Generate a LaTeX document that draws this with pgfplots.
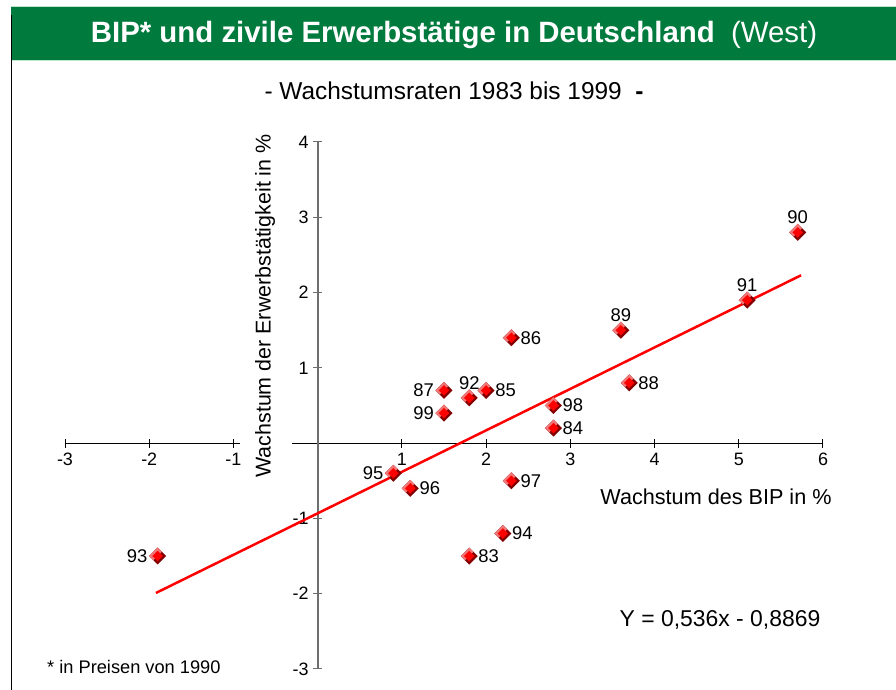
\documentclass[border=0pt]{standalone}
\usepackage{pgfplots}
\usepackage{pgfplotstable}
\pgfplotsset{compat=1.18}
\usepackage{fontspec}
\setmainfont{Liberation Sans}
\definecolor{hdrgreen}{RGB}{0,122,61}
\definecolor{lightedge}{RGB}{190,230,205}
\definecolor{bevlight}{RGB}{240,120,120}
\definecolor{bevdark}{RGB}{130,0,0}
\definecolor{ygray}{RGB}{110,110,110}
\pgfdeclareplotmark{bevdiamond}{%
  \pgfpathmoveto{\pgfpoint{0pt}{\pgfplotmarksize}}%
  \pgfpathlineto{\pgfpoint{\pgfplotmarksize}{0pt}}%
  \pgfpathlineto{\pgfpoint{0pt}{-\pgfplotmarksize}}%
  \pgfpathlineto{\pgfpoint{-\pgfplotmarksize}{0pt}}%
  \pgfpathclose
  \pgfsetfillcolor{bevdark}\pgfusepath{fill}%
  \pgfpathmoveto{\pgfpoint{0.5\pgfplotmarksize}{0.5\pgfplotmarksize}}%
  \pgfpathlineto{\pgfpoint{0pt}{\pgfplotmarksize}}%
  \pgfpathlineto{\pgfpoint{-\pgfplotmarksize}{0pt}}%
  \pgfpathlineto{\pgfpoint{-0.5\pgfplotmarksize}{-0.5\pgfplotmarksize}}%
  \pgfpathclose
  \pgfsetfillcolor{bevlight}\pgfusepath{fill}%
  \pgfpathmoveto{\pgfpoint{0pt}{0.62\pgfplotmarksize}}%
  \pgfpathlineto{\pgfpoint{0.62\pgfplotmarksize}{0pt}}%
  \pgfpathlineto{\pgfpoint{0pt}{-0.62\pgfplotmarksize}}%
  \pgfpathlineto{\pgfpoint{-0.62\pgfplotmarksize}{0pt}}%
  \pgfpathclose
  \pgfsetfillcolor{red}\pgfusepath{fill}%
}
\pgfplotstableread{
x y lab
2.3 1.4 86
2.0 0.7 85
2.8 0.5 98
2.8 0.2 84
3.7 0.8 88
1.1 -0.6 96
2.3 -0.5 97
2.2 -1.2 94
1.8 -1.5 83
}\ptsright
\pgfplotstableread{
x y lab
1.5 0.7 87
1.5 0.4 99
0.9 -0.4 95
-1.9 -1.5 93
}\ptsleft
\pgfplotstableread{
x y lab
3.6 1.5 89
5.7 2.8 90
5.1 1.9 91
1.8 0.6 92
}\ptsabove
\begin{document}
\begin{tikzpicture}
\path[use as bounding box] (0,0) rectangle (896bp,690bp);
% frame
\fill[hdrgreen] (11bp,630bp) rectangle (896bp,683bp);
\draw[lightedge, line width=1bp] (11bp,683bp) -- (896bp,683bp);
\draw[lightedge, line width=1bp] (11bp,629.5bp) -- (896bp,629.5bp);
\draw[black, line width=1.5bp] (11.5bp,0bp) -- (11.5bp,675bp);
\node[white, anchor=center] at (454bp,655bp)
  {\fontsize{29.5}{32}\selectfont\bfseries BIP* und zivile Erwerbstätige in Deutschland\mdseries\ \ (West)};
\node[anchor=center] at (454bp,599bp)
  {\fontsize{24.5}{28}\selectfont - Wachstumsraten 1983 bis 1999\ \ \textbf{-}};
\begin{axis}[
  at={(65bp,21bp)}, anchor=south west,
  scale only axis, width=758bp, height=527bp,
  xmin=-3, xmax=6, ymin=-3, ymax=4,
  axis lines=middle, axis line style={-},
  x axis line style={black, line width=1.2bp},
  y axis line style={ygray, line width=2bp},
  xtick={-3,-2,-1,1,2,3,4,5,6},
  xticklabels={-3,-2,-1,1,2,3,4,5,6},
  ytick={-3,-2,-1,1,2,3,4},
  yticklabels={-3,-2,-1,1,2,3,4},
  tick align=center, major tick length=9bp,
  xtick style={black, line width=1bp},
  ytick style={ygray, line width=1bp},
  tick label style={font=\fontsize{18}{21}\selectfont},
  xticklabel style={yshift=-2bp},
  yticklabel style={xshift=-1bp},
  clip=false,
  point meta=explicit symbolic,
]
\addplot[red, line width=2.5bp] coordinates {(-1.92,-1.99) (5.74,2.23)};
\addplot[only marks, mark=bevdiamond, mark size=8.5bp, nodes near coords,
  every node near coord/.append style={anchor=west, xshift=9bp, yshift=0bp, inner sep=0pt, font=\fontsize{18.5}{21}\selectfont, black}]
  table[x=x, y=y, meta=lab] {\ptsright};
\addplot[only marks, mark=bevdiamond, mark size=8.5bp, nodes near coords,
  every node near coord/.append style={anchor=east, xshift=-10bp, yshift=0bp, inner sep=0pt, font=\fontsize{18.5}{21}\selectfont, black}]
  table[x=x, y=y, meta=lab] {\ptsleft};
\addplot[only marks, mark=bevdiamond, mark size=8.5bp, nodes near coords,
  every node near coord/.append style={anchor=south, yshift=8bp, inner sep=0pt, font=\fontsize{18.5}{21}\selectfont, black}]
  table[x=x, y=y, meta=lab] {\ptsabove};
\end{axis}
\fill[white] (240bp,244bp) rectangle (292bp,250bp);
\node[rotate=90, anchor=center] at (265bp,384bp)
  {\fontsize{21.5}{25}\selectfont Wachstum der Erwerbstätigkeit in \%};
\node[anchor=center] at (716bp,193bp)
  {\fontsize{21.7}{25}\selectfont Wachstum des BIP in \%};
\node[anchor=center] at (720bp,70bp)
  {\fontsize{23}{27}\selectfont Y = 0,536x - 0,8869};
\node[anchor=west, inner sep=0pt] at (47bp,23bp)
  {\fontsize{18.3}{21}\selectfont * in Preisen von 1990};
\end{tikzpicture}
\end{document}
